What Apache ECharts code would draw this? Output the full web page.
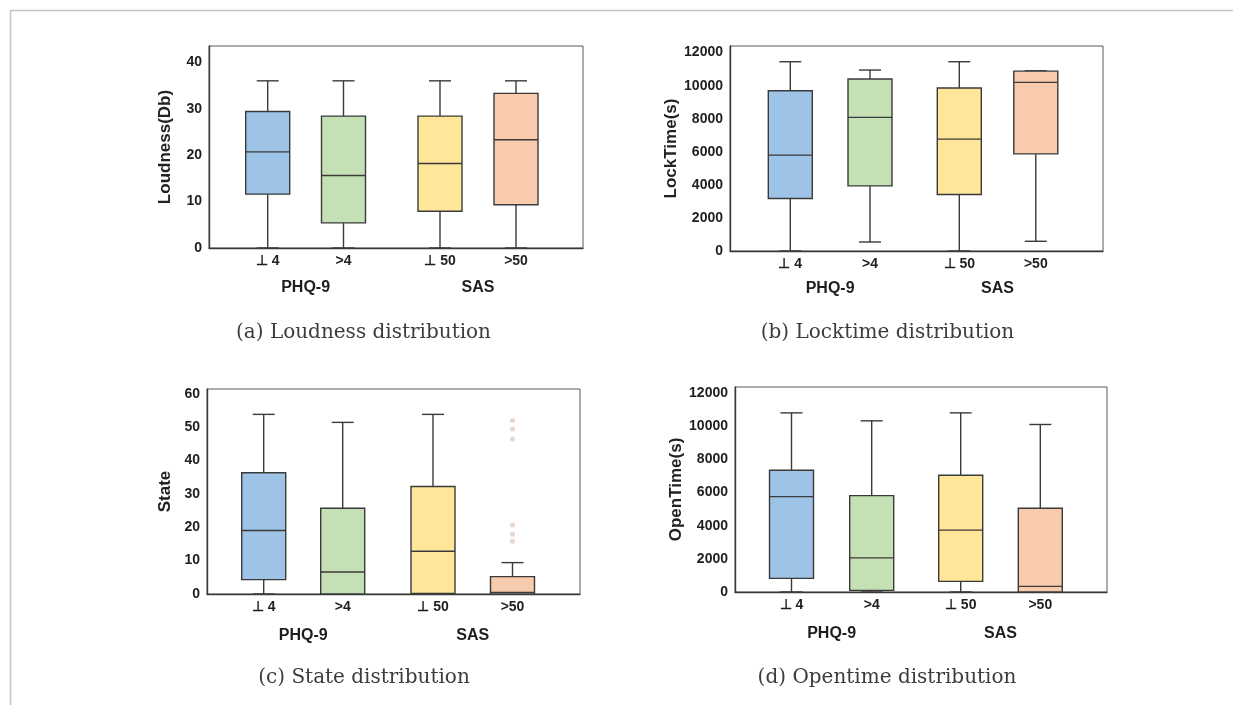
<!DOCTYPE html>
<html>
<head>
<meta charset="utf-8">
<script src="https://cdn.jsdelivr.net/npm/echarts@6/dist/echarts.min.js"></script>
<style>
  html, body { margin: 0; padding: 0; background: #fff; }
  #chart { width: 1233px; height: 705px; }
</style>
</head>
<body>
<div id="chart"></div>
<script>
// categories of the two groups
const phqCats = ['⊥ 4', '>4']
const sasCats = ['⊥ 50', '>50']
const groupNames = ['PHQ-9', 'SAS']

// five-number summaries [min, Q1, median, Q3, max]
// order: PHQ-9 ⊥4, PHQ-9 >4, SAS ⊥50, SAS >50
const loudness = [
    [0, 11.6, 20.7, 29.4, 36.0],
    [0, 5.4, 15.6, 28.4, 36.0],
    [0, 7.9, 18.2, 28.4, 36.0],
    [0, 9.3, 23.3, 33.3, 36.0]
]
const lockTime = [
    [0, 3174, 5797, 9691, 11448],
    [545, 3937, 8080, 10400, 10945],
    [0, 3416, 6766, 9855, 11448],
    [588, 5875, 10200, 10880, 10900]
]
const state = [
    [0, 4.3, 19.0, 36.3, 53.8],
    [0, 0, 6.6, 25.7, 51.4],
    [0, 0.2, 12.8, 32.2, 53.8],
    [0, 0, 0.5, 5.2, 9.4]
]
// outliers of SAS >50 in the state plot
const stateOutliers = [52.0, 49.4, 46.4, 20.7, 17.9, 15.8]
const openTime = [
    [0, 820, 5750, 7340, 10800],
    [0, 100, 2060, 5810, 10320],
    [0, 640, 3730, 7035, 10800],
    [0, 0, 340, 5050, 10100]
]

const boxColors = ['#9dc3e6', '#c5e0b4', '#ffe699', '#f8cbad']
const ink = '#3a3a3a'
const font = '"Liberation Sans", Arial, sans-serif'

// layout of each panel: frame box and box centres (px)
const panels = [
    { name: 'Loudness(Db)', data: loudness, max: 43.5, interval: 10,
      frame: [209, 46, 374, 202], centers: [267.7, 343.5, 440, 516], nameGap: 35, xNameGap: 32,
      caption: '(a) Loudness distribution', cap: [363.5, 332] },
    { name: 'LockTime(s)', data: lockTime, max: 12400, interval: 2000,
      frame: [730, 46, 373, 205], centers: [790.3, 870, 959.3, 1035.8], nameGap: 50, xNameGap: 30,
      caption: '(b) Locktime distribution', cap: [887.5, 332] },
    { name: 'State', data: state, max: 61.4, interval: 10,
      frame: [207, 389, 373, 205], centers: [263.7, 342.7, 433, 512.5], nameGap: 33, xNameGap: 34,
      caption: '(c) State distribution', cap: [364, 677] },
    { name: 'OpenTime(s)', data: openTime, max: 12360, interval: 2000,
      frame: [735, 387, 372, 205], centers: [791.5, 871.7, 960.7, 1040.3], nameGap: 47, xNameGap: 34,
      caption: '(d) Opentime distribution', cap: [887, 677] }
]

function renderBox(colors) {
    return function (params, api) {
        const x = api.value(0)
        const lo = api.coord([x, api.value(1)])
        const q1 = api.coord([x, api.value(2)])
        const md = api.coord([x, api.value(3)])
        const q3 = api.coord([x, api.value(4)])
        const hi = api.coord([x, api.value(5)])
        const cx = lo[0]
        const half = 22
        const cap = 11
        const line = { stroke: ink, lineWidth: 1.4 }
        return {
            type: 'group',
            children: [
                { type: 'line', shape: { x1: cx, y1: hi[1], x2: cx, y2: q3[1] }, style: line },
                { type: 'line', shape: { x1: cx, y1: q1[1], x2: cx, y2: lo[1] }, style: line },
                { type: 'line', shape: { x1: cx - cap, y1: hi[1], x2: cx + cap, y2: hi[1] }, style: line },
                { type: 'line', shape: { x1: cx - cap, y1: lo[1], x2: cx + cap, y2: lo[1] }, style: line },
                { type: 'rect', shape: { x: cx - half, y: q3[1], width: half * 2, height: q1[1] - q3[1] },
                  style: { fill: colors[params.dataIndex], stroke: ink, lineWidth: 1.4 } },
                { type: 'line', shape: { x1: cx - half, y1: md[1], x2: cx + half, y2: md[1] }, style: line }
            ]
        }
    }
}

const grid = []
const xAxis = []
const yAxis = []
const series = []
const graphic = [
    { type: 'line', shape: { x1: 10.5, y1: 10.5, x2: 1233, y2: 10.5 }, style: { stroke: '#c4c4c4', lineWidth: 1.6 } },
    { type: 'line', shape: { x1: 10.5, y1: 10.5, x2: 10.5, y2: 705 }, style: { stroke: '#c4c4c4', lineWidth: 1.6 } }
]

panels.forEach((p, i) => {
    const [left, top, width, height] = p.frame
    const base = i * 3

    // frame with y axis and bottom line
    grid.push({ left, top, width, height, show: true, borderColor: '#5a5a5a', borderWidth: 1, backgroundColor: '#fff' })
    xAxis.push({
        gridIndex: base, type: 'value', min: 0, max: 1,
        axisLine: { show: true, onZero: false, lineStyle: { color: ink, width: 1.4 } },
        axisTick: { show: false }, axisLabel: { show: false }, splitLine: { show: false }
    })
    yAxis.push({
        gridIndex: base, type: 'value', min: 0, max: p.max, interval: p.interval,
        name: p.name, nameLocation: 'middle', nameGap: p.nameGap,
        nameTextStyle: { fontFamily: font, fontWeight: 'bold', fontSize: 17, color: '#222' },
        axisLine: { show: true, lineStyle: { color: ink, width: 1.4 } },
        axisTick: { show: false }, splitLine: { show: false },
        axisLabel: {
            showMaxLabel: false, margin: 7, fontFamily: font, fontWeight: 'bold', fontSize: 14, color: '#1e1e1e',
            formatter: v => String(v)
        }
    })

    // two group sub-grids, one per questionnaire
    ;[phqCats, sasCats].forEach((cats, g) => {
        const c1 = p.centers[g * 2]
        const c2 = p.centers[g * 2 + 1]
        const d = c2 - c1
        const idx = base + 1 + g
        grid.push({ left: c1 - d / 2, top, width: d * 2, height, show: false })
        xAxis.push({
            gridIndex: idx, type: 'category', data: cats,
            name: groupNames[g], nameLocation: 'middle', nameGap: p.xNameGap,
            nameTextStyle: { fontFamily: font, fontWeight: 'bold', fontSize: 16, color: '#1e1e1e' },
            axisLine: { show: false }, axisTick: { show: false },
            axisLabel: { margin: 6, fontFamily: font, fontWeight: 'bold', fontSize: 14, color: '#1e1e1e' }
        })
        yAxis.push({ gridIndex: idx, type: 'value', min: 0, max: p.max, show: false })
        series.push({
            type: 'custom',
            xAxisIndex: idx,
            yAxisIndex: idx,
            encode: { x: 0, y: [1, 2, 3, 4, 5] },
            renderItem: renderBox(boxColors.slice(g * 2, g * 2 + 2)),
            data: p.data.slice(g * 2, g * 2 + 2).map((v, k) => [k].concat(v))
        })
    })

    graphic.push({
        type: 'text', x: p.cap[0], y: p.cap[1] + 1,
        style: { text: p.caption, font: '20px "DejaVu Serif", serif', fill: '#3c3c3c', align: 'center', verticalAlign: 'middle' }
    })
})

// outliers: panel (c), SAS group
series.push({
    type: 'scatter',
    xAxisIndex: 8,
    yAxisIndex: 8,
    symbolSize: 5,
    itemStyle: { color: '#e3cbbd' },
    data: stateOutliers.map(v => [sasCats[1], v])
})

const chart = echarts.init(document.getElementById('chart'))
chart.setOption({
    animation: false,
    grid,
    xAxis,
    yAxis,
    series,
    graphic
})
</script>
</body>
</html>
